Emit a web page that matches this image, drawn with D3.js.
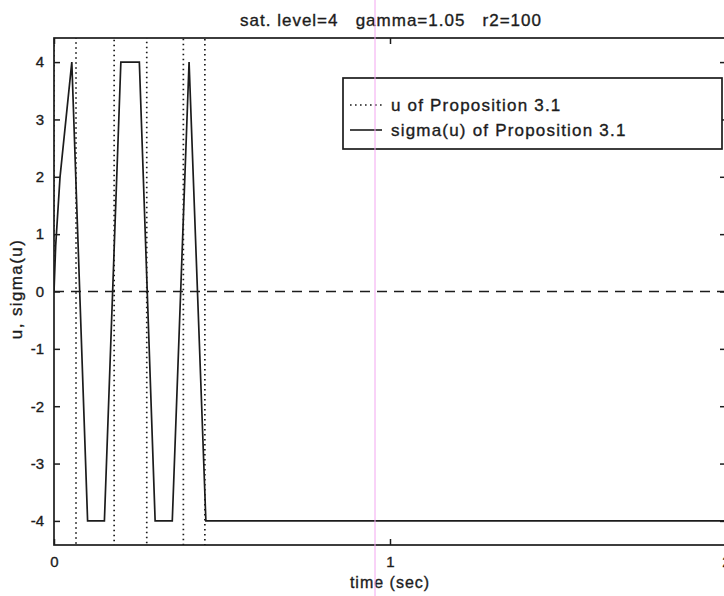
<!DOCTYPE html>
<html>
<head>
<meta charset="utf-8">
<script src="https://cdnjs.cloudflare.com/ajax/libs/d3/7.8.5/d3.min.js"></script>
<style>
body { margin: 0; background: #fff; }
svg text { font-family: "Liberation Sans", Arial, sans-serif; fill: #1c1c1c; stroke: #1c1c1c; stroke-width: 0.35px; }
</style>
</head>
<body>
<svg width="724" height="596"></svg>
<script>
// sigma(u): saturated signal
var sigmaTime = [0, 0.005, 0.018, 0.053, 0.100, 0.150, 0.199, 0.254, 0.301, 0.352, 0.402, 0.452, 2.0];
var sigmaVal  = [0, 0.8, 2.0, 4, -4, -4, 4, 4, -4, -4, 4, -4, -4];
// u: jumps far outside the axis range, only the switching lines show
var uTime = [0, 0, 0.0655, 0.0655, 0.179, 0.179, 0.276, 0.276, 0.385, 0.385, 0.449, 0.449, 2.0];
var uVal  = [0, 60, 60, -60, -60, 60, 60, -60, -60, 60, 60, -60, -60];
var xTicks = [0, 1, 2];
var yTicks = [-4, -3, -2, -1, 0, 1, 2, 3, 4];
var titleText = "sat. level=4   gamma=1.05   r2=100";
var legendLabels = ["u of Proposition 3.1", "sigma(u) of Proposition 3.1"];

var svg = d3.select("svg"),
    width = +svg.attr("width"),
    height = +svg.attr("height");

// plot box (right edge falls just past the window, as in the scan)
var pLeft = 54, pRight = 726, pTop = 38, pBottom = 545;
var ink = "#1c1c1c";

var x = d3.scaleLinear().domain([0, 2]).range([pLeft, pRight]);
var y = d3.scaleLinear().domain([-4.42, 4.42]).range([pBottom, pTop]);

svg.append("defs").append("clipPath").attr("id", "plotclip")
  .append("rect")
  .attr("x", pLeft).attr("y", pTop)
  .attr("width", pRight - pLeft).attr("height", pBottom - pTop);

var plot = svg.append("g").attr("clip-path", "url(#plotclip)");

// zero reference
plot.append("line")
  .attr("x1", x(0)).attr("x2", x(2))
  .attr("y1", y(0)).attr("y2", y(0))
  .attr("stroke", ink).attr("stroke-width", 1.7)
  .attr("stroke-dasharray", "10,7");

var line = d3.line()
  .x(function(d) { return x(d[0]); })
  .y(function(d) { return y(d[1]); });

var uData = uTime.map(function(t, i) { return [t, uVal[i]]; });
var sigmaData = sigmaTime.map(function(t, i) { return [t, sigmaVal[i]]; });

plot.append("path")
  .datum(uData)
  .attr("d", line)
  .attr("fill", "none")
  .attr("stroke", ink).attr("stroke-width", 1.7)
  .attr("stroke-dasharray", "1.6,3.4");

plot.append("path")
  .datum(sigmaData)
  .attr("d", line)
  .attr("fill", "none")
  .attr("stroke", ink).attr("stroke-width", 1.7)
  .attr("stroke-linejoin", "miter");

// axes with inward ticks, plain hyphen for minus like the original
var fmt = function(d) { return String(d); };
var axB = svg.append("g").attr("transform", "translate(0," + pBottom + ")")
  .call(d3.axisBottom(x).tickValues(xTicks).tickFormat(fmt).tickSizeInner(-6).tickSizeOuter(0).tickPadding(11));
var axT = svg.append("g").attr("transform", "translate(0," + pTop + ")")
  .call(d3.axisTop(x).tickValues(xTicks).tickSizeInner(-6).tickSizeOuter(0).tickFormat(""));
var axL = svg.append("g").attr("transform", "translate(" + pLeft + ",0)")
  .call(d3.axisLeft(y).tickValues(yTicks).tickFormat(fmt).tickSizeInner(-6).tickSizeOuter(0).tickPadding(10));
var axR = svg.append("g").attr("transform", "translate(" + pRight + ",0)")
  .call(d3.axisRight(y).tickValues(yTicks).tickSizeInner(-6).tickSizeOuter(0).tickFormat(""));

[axB, axT, axL, axR].forEach(function(a) {
  a.select(".domain").remove();
  a.selectAll(".tick line").attr("stroke", ink).attr("stroke-width", 1.5);
  a.selectAll(".tick text")
    .attr("fill", ink)
    .style("font-size", "15px")
    .style("font-family", "'Liberation Sans', Arial, sans-serif");
});

svg.append("rect")
  .attr("x", pLeft).attr("y", pTop)
  .attr("width", pRight - pLeft).attr("height", pBottom - pTop)
  .attr("fill", "none").attr("stroke", ink).attr("stroke-width", 1.7);

// title and axis labels
svg.append("text")
  .attr("x", 391).attr("y", 26)
  .attr("text-anchor", "middle")
  .style("font-size", "17px").style("letter-spacing", "1px")
  .style("white-space", "pre")
  .text(titleText);

svg.append("text")
  .attr("x", 390).attr("y", 588)
  .attr("text-anchor", "middle")
  .style("font-size", "16px").style("letter-spacing", "1px")
  .text("time (sec)");

svg.append("text")
  .attr("transform", "translate(22,289) rotate(-90)")
  .attr("text-anchor", "middle")
  .style("font-size", "17px").style("letter-spacing", "1.4px")
  .text("u, sigma(u)");

// legend
var legend = svg.append("g");
legend.append("rect")
  .attr("x", 343).attr("y", 78)
  .attr("width", 379).attr("height", 71)
  .attr("fill", "#fff").attr("stroke", ink).attr("stroke-width", 1.7);

legend.selectAll("line.sample")
  .data(legendLabels)
  .enter().append("line")
  .attr("class", "sample")
  .attr("x1", 350).attr("x2", 382)
  .attr("y1", function(d, i) { return 105 + i * 25; })
  .attr("y2", function(d, i) { return 105 + i * 25; })
  .attr("stroke", ink).attr("stroke-width", 1.6)
  .attr("stroke-dasharray", function(d, i) { return i == 0 ? "1.6,3.4" : null; });

legend.selectAll("text")
  .data(legendLabels)
  .enter().append("text")
  .attr("x", 391)
  .attr("y", function(d, i) { return 111 + i * 25; })
  .style("font-size", "17px").style("letter-spacing", "1.2px")
  .text(function(d) { return d; });

// faint magenta scanner streak
svg.append("line")
  .attr("x1", 375).attr("x2", 375)
  .attr("y1", 0).attr("y2", height)
  .attr("stroke", "#f3a6f0").attr("stroke-width", 1);
</script>
</body>
</html>
